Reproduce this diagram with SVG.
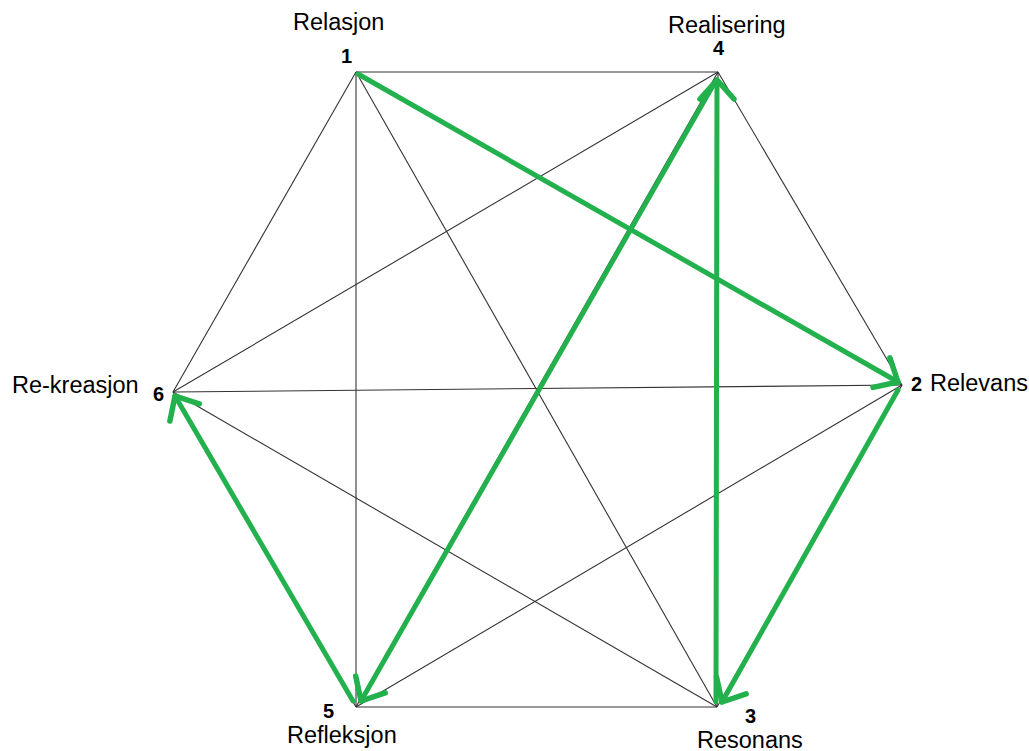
<svg xmlns="http://www.w3.org/2000/svg" width="1029" height="751" viewBox="0 0 1029 751">
<style>
.edge{stroke:#333;stroke-width:1.1;fill:none}
.arrow{stroke:#22B14C;stroke-width:5;fill:none;stroke-linecap:round;marker-end:url(#head)}
.name{font-family:"Liberation Sans",Arial,sans-serif;font-size:23.5px;fill:#000}
.num{font-family:"Liberation Sans",Arial,sans-serif;font-size:20px;font-weight:bold;fill:#000}
</style>
<defs>
<marker id="head" markerUnits="userSpaceOnUse" markerWidth="50" markerHeight="50" viewBox="-35 -25 50 50" refX="0" refY="0" orient="auto">
<path d="M-19,-17 L0,0 L-19,17" fill="none" stroke="#22B14C" stroke-width="5.5" stroke-linecap="round" stroke-linejoin="round"/>
</marker>
</defs>
<rect width="1029" height="751" fill="#fff"/>
<g id="connectors">
<g id="edges">
<line class="edge" x1="356" y1="72" x2="718" y2="72"/>
<line class="edge" x1="718" y1="72" x2="902" y2="385"/>
<line class="edge" x1="902" y1="385" x2="717" y2="707"/>
<line class="edge" x1="717" y1="707" x2="356" y2="707"/>
<line class="edge" x1="356" y1="707" x2="173" y2="392"/>
<line class="edge" x1="173" y1="392" x2="356" y2="72"/>
<line class="edge" x1="356" y1="72" x2="356" y2="707"/>
<line class="edge" x1="356" y1="72" x2="717" y2="707"/>
<line class="edge" x1="356" y1="72" x2="902" y2="385"/>
<line class="edge" x1="718" y1="72" x2="173" y2="392"/>
<line class="edge" x1="718" y1="72" x2="356" y2="707"/>
<line class="edge" x1="718" y1="72" x2="717" y2="707"/>
<line class="edge" x1="902" y1="385" x2="173" y2="392"/>
<line class="edge" x1="902" y1="385" x2="356" y2="707"/>
<line class="edge" x1="173" y1="392" x2="717" y2="707"/>
</g>
<g id="arrows">
<line class="arrow" x1="358" y1="74" x2="898" y2="382"/>
<line class="arrow" x1="898" y1="390" x2="722" y2="702"/>
<line class="arrow" x1="716" y1="702" x2="717" y2="80"/>
<line class="arrow" x1="715" y1="82" x2="361" y2="701"/>
<line class="arrow" x1="353" y1="701" x2="175" y2="396"/>
</g>
</g>
<g id="node1"><text class="name" x="293" y="30">Relasjon</text><text class="num" x="341" y="63">1</text></g>
<g id="node4"><text class="name" x="668" y="33">Realisering</text><text class="num" x="713" y="55">4</text></g>
<g id="node2"><text class="num" x="911" y="391">2</text><text class="name" x="930" y="391">Relevans</text></g>
<g id="node3"><text class="num" x="745" y="723">3</text><text class="name" x="697" y="748">Resonans</text></g>
<g id="node5"><text class="num" x="323" y="718">5</text><text class="name" x="287" y="743">Refleksjon</text></g>
<g id="node6"><text class="name" x="12" y="393">Re-kreasjon</text><text class="num" x="153" y="401">6</text></g>
</svg>
